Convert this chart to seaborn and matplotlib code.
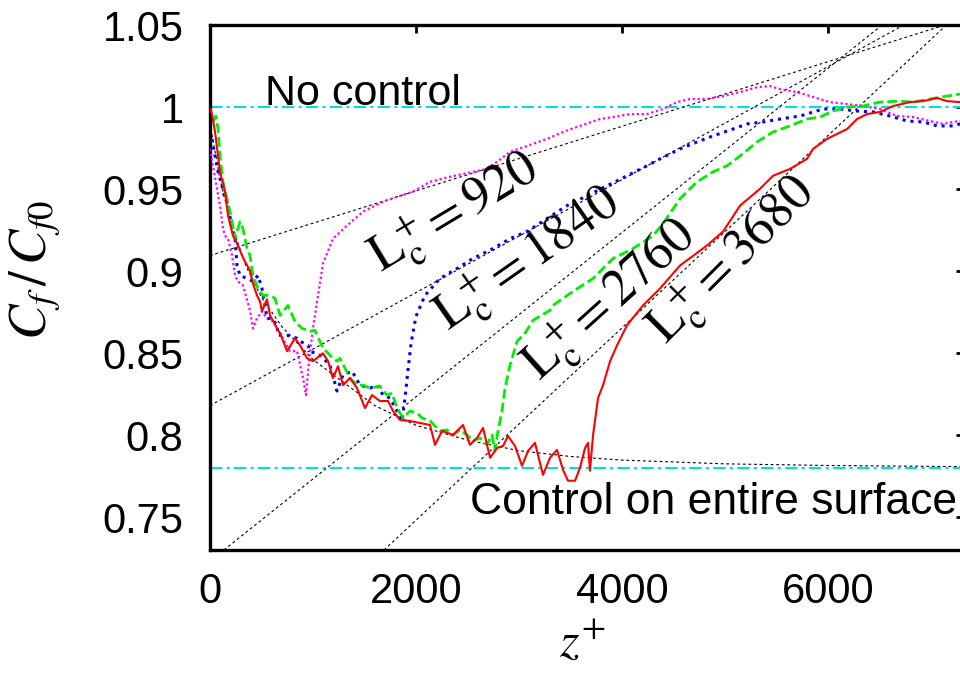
import numpy as np
import pandas as pd
import seaborn as sns
import matplotlib.pyplot as plt

# values
z_920 = [0, 29, 68, 97, 126, 146, 175, 214, 243, 272, 320, 388, 417, 456, 505, 553, 612, 680, 777, 845,
         903, 932, 961, 1000, 1049, 1097, 1194, 1330, 1485, 1680, 1845, 1971, 2136, 2330, 2553, 2689,
         2786, 2913, 3078, 3272, 3427, 3592, 3787, 3913, 4078, 4243, 4398, 4534, 4660, 4825, 4981, 5146,
         5311, 5437, 5534, 5699, 5855, 6020, 6185, 6340, 6505, 6670, 6825, 6990, 7117, 7214, 7282, 7330]
cf_920 = [0.9745, 0.9642, 0.9502, 0.9399, 0.9259, 0.9216, 0.9198, 0.9095, 0.8973, 0.8937, 0.8913, 0.8761,
          0.8651, 0.8712, 0.8755, 0.8712, 0.8694, 0.8621, 0.8512, 0.8512, 0.8348, 0.8244, 0.8451, 0.8651,
          0.8852, 0.9046, 0.9198, 0.9277, 0.9362, 0.9423, 0.9459, 0.9484, 0.9544, 0.9575, 0.9605, 0.9623,
          0.9666, 0.9727, 0.9763, 0.9806, 0.9848, 0.9885, 0.9927, 0.9939, 0.9957, 0.9957, 0.9988, 1.0030,
          1.0049, 1.0049, 1.0067, 1.0091, 1.0121, 1.0128, 1.0109, 1.0091, 1.0061, 1.0030, 1.0018, 1.0006,
          0.9988, 0.9945, 0.9939, 0.9915, 0.9897, 0.9909, 0.9915, 0.9915]

z_1840 = [19, 49, 78, 117, 126, 175, 214, 243, 262, 291, 359, 417, 466, 505, 534, 553, 602, 651, 660, 748,
          845, 874, 951, 971, 1068, 1165, 1233, 1291, 1379, 1456, 1553, 1621, 1680, 1748, 1816, 1864, 1893,
          1922, 1952, 2000, 2087, 2233, 2398, 2553, 2748, 2913, 3078, 3272, 3466, 3660, 3854, 4049, 4243,
          4369, 4563, 4728, 4884, 5078, 5214, 5369, 5534, 5728, 5952, 6117, 6282, 6437, 6602, 6767, 6923,
          7059, 7214, 7282, 7330]
cf_1840 = [0.9806, 0.9702, 0.9605, 0.9520, 0.9484, 0.9399, 0.9259, 0.9198, 0.9034, 0.8973, 0.8955, 0.8937,
           0.8973, 0.8894, 0.8791, 0.8712, 0.8712, 0.8670, 0.8609, 0.8609, 0.8591, 0.8572, 0.8548, 0.8512,
           0.8487, 0.8427, 0.8269, 0.8366, 0.8390, 0.8305, 0.8287, 0.8305, 0.8244, 0.8226, 0.8147, 0.8086,
           0.8226, 0.8396, 0.8560, 0.8724, 0.8852, 0.8955, 0.9016, 0.9077, 0.9137, 0.9198, 0.9241, 0.9320,
           0.9399, 0.9459, 0.9520, 0.9581, 0.9642, 0.9684, 0.9745, 0.9787, 0.9824, 0.9866, 0.9897, 0.9909,
           0.9927, 0.9945, 0.9988, 0.9988, 0.9976, 0.9970, 0.9945, 0.9915, 0.9909, 0.9885, 0.9885, 0.9897,
           0.9897]

z_2760 = [29, 58, 78, 97, 126, 165, 214, 243, 291, 320, 359, 388, 417, 466, 515, 583, 631, 680, 757, 825,
          893, 971, 1019, 1097, 1194, 1233, 1262, 1359, 1427, 1485, 1553, 1651, 1718, 1767, 1816, 1874, 1942,
          2010, 2058, 2136, 2233, 2301, 2359, 2427, 2495, 2553, 2621, 2689, 2738, 2767, 2796, 2835, 2864,
          2913, 2981, 3058, 3136, 3301, 3330, 3524, 3719, 3913, 4107, 4301, 4398, 4563, 4728, 4884, 5020,
          5146, 5311, 5466, 5631, 5796, 5922, 6049, 6185, 6340, 6505, 6699, 6825, 6990, 7156, 7282, 7330]
cf_2760 = [0.9909, 0.9945, 0.9866, 0.9702, 0.9544, 0.9441, 0.9301, 0.9198, 0.9301, 0.9259, 0.9137, 0.9095,
           0.8973, 0.8894, 0.8852, 0.8852, 0.8834, 0.8730, 0.8791, 0.8694, 0.8651, 0.8633, 0.8639, 0.8530,
           0.8469, 0.8451, 0.8469, 0.8348, 0.8305, 0.8305, 0.8287, 0.8299, 0.8244, 0.8256, 0.8165, 0.8105,
           0.8147, 0.8135, 0.8105, 0.8086, 0.8026, 0.8032, 0.8001, 0.8032, 0.8001, 0.7965, 0.7983, 0.7941,
           0.8001, 0.7904, 0.8026, 0.8147, 0.8287, 0.8427, 0.8572, 0.8621, 0.8700, 0.8761, 0.8791, 0.8876,
           0.8955, 0.9077, 0.9137, 0.9216, 0.9289, 0.9441, 0.9544, 0.9605, 0.9642, 0.9702, 0.9787, 0.9848,
           0.9885, 0.9927, 0.9939, 0.9976, 1.0000, 1.0006, 1.0030, 1.0036, 1.0030, 1.0049, 1.0067, 1.0079,
           1.0079]

z_3680 = [5, 19, 49, 97, 146, 175, 223, 272, 311, 340, 388, 417, 456, 485, 505, 553, 583, 651, 680, 748,
          825, 874, 942, 1000, 1097, 1146, 1194, 1243, 1291, 1359, 1427, 1505, 1573, 1651, 1728, 1777, 1845,
          1942, 2039, 2136, 2185, 2253, 2359, 2456, 2524, 2592, 2651, 2719, 2787, 2845, 2893, 2961, 3029,
          3088, 3155, 3233, 3301, 3369, 3427, 3476, 3544, 3592, 3641, 3670, 3689, 3719, 3767, 3816, 3884,
          3952, 4049, 4204, 4369, 4563, 4825, 4981, 5146, 5340, 5466, 5631, 5796, 5855, 5991, 6185, 6282,
          6379, 6505, 6631, 6796, 6923, 7059, 7156, 7282, 7330]
cf_3680 = [0.9990, 0.9957, 0.9848, 0.9605, 0.9484, 0.9338, 0.9216, 0.9156, 0.9095, 0.9058, 0.9004, 0.8925,
           0.8852, 0.8815, 0.8755, 0.8828, 0.8730, 0.8651, 0.8621, 0.8512, 0.8591, 0.8548, 0.8469, 0.8451,
           0.8499, 0.8451, 0.8348, 0.8420, 0.8305, 0.8348, 0.8287, 0.8165, 0.8244, 0.8208, 0.8208, 0.8147,
           0.8092, 0.8086, 0.8074, 0.8062, 0.7941, 0.8026, 0.8001, 0.8062, 0.7941, 0.7983, 0.8044, 0.7862,
           0.7922, 0.7934, 0.7995, 0.7934, 0.7813, 0.7904, 0.7953, 0.7758, 0.7862, 0.7910, 0.7789, 0.7722,
           0.7722, 0.7801, 0.7922, 0.7953, 0.7783, 0.8001, 0.8226, 0.8305, 0.8451, 0.8548, 0.8670, 0.8791,
           0.8894, 0.9034, 0.9156, 0.9241, 0.9399, 0.9502, 0.9581, 0.9623, 0.9684, 0.9745, 0.9806, 0.9866,
           0.9927, 0.9957, 0.9970, 1.0006, 1.0030, 1.0036, 1.0055, 1.0036, 1.0030, 1.0030]

# decay of Cf for control on the whole surface (dotted guide)
z_decay = [0, 100, 200, 350, 500, 700, 1000, 1300, 1600, 2000, 2500, 3000, 3500, 4000, 5000, 6000, 7330]
cf_decay = [0.990, 0.955, 0.930, 0.903, 0.884, 0.866, 0.846, 0.832, 0.818, 0.806, 0.797, 0.7905,
            0.787, 0.7848, 0.7825, 0.7815, 0.7808]

# straight guide lines (two points each)
guide_z = [[0, 7156], [0, 6748], [135, 6534], [1690, 7156]]
guide_cf = [[0.9095, 1.0504], [0.818, 1.0504], [0.73, 1.0504], [0.73, 1.0504]]

lc_values = ['920', '1840', '2760', '3680']
no_control = 1.0
full_control = 0.78

sns.set_style('white')
plt.rcParams['font.family'] = ['Liberation Sans', 'DejaVu Sans']
plt.rcParams['mathtext.fontset'] = 'stix'
plt.rcParams['text.color'] = 'black'
plt.rcParams['xtick.color'] = 'black'
plt.rcParams['ytick.color'] = 'black'
plt.rcParams['xtick.labelcolor'] = 'black'
plt.rcParams['ytick.labelcolor'] = 'black'

fig = plt.figure(figsize=(9.6, 6.85), dpi=100)
ax = fig.add_axes([0.21875, 0.1971, 0.7854, 0.7664])

ax.axhline(no_control, color='#00e0e0', lw=1.5, ls=(0, (6, 2, 1.5, 2)), zorder=1)
ax.axhline(full_control, color='#00e0e0', lw=1.5, ls=(0, (6, 2, 1.5, 2)), zorder=1)

for gz, gc in zip(guide_z, guide_cf):
    sns.lineplot(x=gz, y=gc, ax=ax, color='k', lw=0.8, linestyle=(0, (2.5, 2.5)), zorder=2)
sns.lineplot(x=z_decay, y=cf_decay, ax=ax, color='k', lw=0.8, linestyle=(0, (2.5, 2.5)), zorder=2)

series = [(z_920, cf_920, '#ff00ff', (0, (1, 1.2)), 1.6),
          (z_1840, cf_1840, '#0000ff', (0, (1, 1.6)), 2.2),
          (z_2760, cf_2760, '#00ee00', (0, (3.5, 1.5)), 2.0),
          (z_3680, cf_3680, '#ff0000', '-', 1.5)]
for zs, cs, col, dash, lw in series:
    sns.lineplot(x=zs, y=cs, ax=ax, color=col, lw=lw, linestyle=dash, estimator=None, sort=False, zorder=3)

ax.set_xlim(0, 7320)
ax.set_ylim(0.73, 1.05)
ax.set_xticks([0, 2000, 4000, 6000])
ax.set_xticklabels(['0', '2000', '4000', '6000'])
ax.set_yticks([0.75, 0.8, 0.85, 0.9, 0.95, 1.0, 1.05])
ax.set_yticklabels(['0.75', '0.8', '0.85', '0.9', '0.95', '1', '1.05'])
ax.tick_params(direction='in', length=5.5, width=2, top=True, right=True, labelsize=30,
               colors='black', labelcolor='black')
ax.tick_params(axis='x', pad=16)
ax.tick_params(axis='y', pad=19)
for sp in ax.spines.values():
    sp.set_linewidth(2.4)
    sp.set_color('k')
ax.set_xlabel('')
ax.set_ylabel('')

ax.text(534, 1.0012, 'No control', fontsize=31, ha='left', va='baseline', color='black')
ax.text(2524, 0.7521, 'Control on entire surface', fontsize=32, ha='left', va='baseline', color='black')

label_pos = [(2379, 0.935, 31), (3087, 0.9064, 35), (3884, 0.882, 42), (5068, 0.9064, 45)]
for lc, (lx, ly, rot) in zip(lc_values, label_pos):
    ax.text(lx, ly, r'$\mathrm{L}_{\mathrm{c}}^{+}{=}\mathrm{' + lc + '}$', fontsize=37, color='black',
            rotation=rot, rotation_mode='anchor', ha='center', va='center')

fig.text(0.036, 1 - 270 / 685, r'$C_f\,/\,C_{f0}$', fontsize=38, rotation=90, ha='center', va='center',
         color='black')
fig.text(582 / 960, 1 - 643 / 685, r'$z^{+}$', fontsize=36, ha='center', va='center', color='black')

fig.savefig('out.png', dpi=100)
